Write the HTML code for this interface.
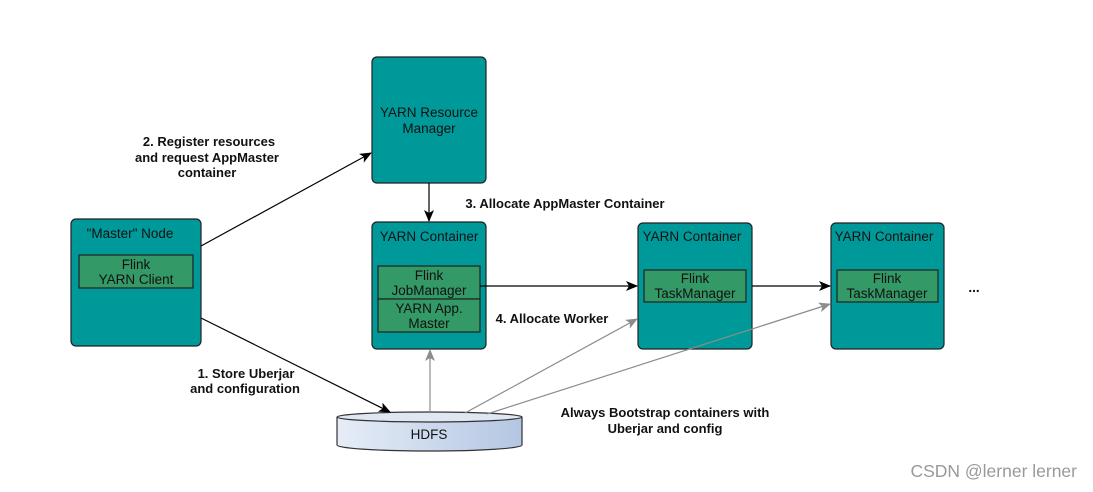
<!DOCTYPE html>
<html><head><meta charset="utf-8"><style>
html,body{margin:0;padding:0;background:#fff;}
svg text{font-family:"Liberation Sans",Arial,sans-serif;}
</style></head><body>
<svg width="1093" height="487" viewBox="0 0 1093 487" xmlns="http://www.w3.org/2000/svg">
<defs>
<marker id="ab" markerWidth="12" markerHeight="10" refX="11" refY="5" orient="auto" markerUnits="userSpaceOnUse"><path d="M0,0 L12,5 L0,10 L3,5 Z" fill="#000"/></marker>
<marker id="ag" markerWidth="12" markerHeight="10" refX="11" refY="5" orient="auto" markerUnits="userSpaceOnUse"><path d="M0,0 L12,5 L0,10 L3,5 Z" fill="#8c8c8c"/></marker>
<linearGradient id="hg" x1="0" x2="1" y1="0" y2="0"><stop offset="0" stop-color="#e6edf7"/><stop offset="1" stop-color="#b4c6e2"/></linearGradient>
</defs>
<g stroke="#222" stroke-width="1.2" fill="#009999">
<rect x="71" y="219" width="130" height="127" rx="5"/>
<rect x="372" y="57" width="114" height="126" rx="5"/>
<rect x="372" y="222" width="114" height="127" rx="5"/>
<rect x="638" y="223" width="114" height="126" rx="5"/>
<rect x="831" y="223" width="113" height="126" rx="5"/>
</g>
<g stroke="#222" stroke-width="1.2" fill="#339966">
<rect x="79" y="255" width="114" height="33"/>
<rect x="378" y="266" width="102" height="33"/>
<rect x="378" y="299" width="102" height="33"/>
<rect x="644" y="270" width="102" height="32"/>
<rect x="837" y="270" width="101" height="32"/>
</g>
<g font-size="13.5" fill="#111" text-anchor="middle">
<text x="130" y="238">"Master" Node</text>
<text x="136" y="269">Flink</text><text x="136" y="284">YARN Client</text>
<text x="429" y="117">YARN Resource</text><text x="429" y="133">Manager</text>
<text x="429" y="241">YARN Container</text>
<text x="429" y="280">Flink</text><text x="429" y="295">JobManager</text>
<text x="429" y="313">YARN App.</text><text x="429" y="328">Master</text>
<text x="692" y="241">YARN Container</text>
<text x="695" y="283">Flink</text><text x="695" y="298">TaskManager</text>
<text x="884" y="241">YARN Container</text>
<text x="887" y="283">Flink</text><text x="887" y="298">TaskManager</text>
<text x="974" y="292" font-weight="bold">...</text>
</g>
<path d="M337,417 L337,445 A92.5,6 0 0 0 522,445 L522,417" fill="url(#hg)" stroke="#333" stroke-width="1.2"/>
<ellipse cx="429.5" cy="417" rx="92.5" ry="5" fill="#dfe7f2" stroke="#333" stroke-width="1.2"/>
<text x="429" y="439" font-size="13.5" text-anchor="middle" fill="#111">HDFS</text>
<g stroke="#000" stroke-width="1.2" fill="none">
<line x1="201" y1="246" x2="371" y2="153" marker-end="url(#ab)"/>
<line x1="201" y1="318" x2="390" y2="412" marker-end="url(#ab)"/>
<line x1="429" y1="183" x2="429" y2="221" marker-end="url(#ab)"/>
<line x1="480" y1="286" x2="637" y2="286" marker-end="url(#ab)"/>
<line x1="752" y1="286" x2="830" y2="286" marker-end="url(#ab)"/>
</g>
<g stroke="#8c8c8c" stroke-width="1.2" fill="none">
<line x1="430" y1="412" x2="430" y2="350" marker-end="url(#ag)"/>
<line x1="465" y1="413" x2="637" y2="319" marker-end="url(#ag)"/>
<line x1="487" y1="414" x2="830" y2="304" marker-end="url(#ag)"/>
</g>
<g font-size="13" font-weight="bold" fill="#111" text-anchor="middle">
<text x="209" y="146">2. Register resources</text>
<text x="207" y="162">and request AppMaster</text>
<text x="207" y="177">container</text>
<text x="565" y="208">3. Allocate AppMaster Container</text>
<text x="552" y="323">4. Allocate Worker</text>
<text x="246" y="378">1. Store Uberjar</text>
<text x="245" y="393">and configuration</text>
<text x="665" y="417">Always Bootstrap containers with</text>
<text x="665" y="433">Uberjar and config</text>
</g>
<text x="1077" y="477" font-size="17.5" fill="#999" text-anchor="end">CSDN @lerner lerner</text>
</svg>
</body></html>
